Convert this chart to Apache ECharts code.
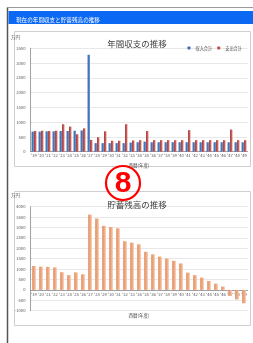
<!DOCTYPE html>
<html>
<head>
<meta charset="utf-8">
<script src="https://cdn.jsdelivr.net/npm/echarts@6/dist/echarts.min.js"></script>
<style>
html, body { margin: 0; padding: 0; background: #fff; }
#main { width: 253px; height: 343px; }
</style>
</head>
<body>
<div id="main"></div>
<script>
const years = ["'19", "'20", "'21", "'22", "'23", "'24", "'25", "'26", "'27", "'28", "'29", "'30", "'31", "'32", "'33", "'34",
	"'35", "'36", "'37", "'38", "'39", "'40", "'41", "'42", "'43", "'44", "'45", "'46", "'47", "'48", "'49"];
const income = [680, 680, 690, 690, 700, 700, 710, 720, 3280, 290, 290, 290, 290, 290, 310, 320,
	340, 320, 320, 320, 320, 320, 320, 320, 320, 320, 320, 320, 320, 320, 320];
const expense = [700, 710, 700, 710, 930, 850, 590, 790, 400, 490, 690, 370, 370, 930, 380, 390,
	700, 390, 390, 390, 390, 390, 730, 390, 390, 390, 390, 390, 750, 390, 390];
const savings = [1150, 1120, 1110, 1080, 850, 710, 840, 750, 3620, 3430, 3080, 3020, 2960, 2340, 2270, 2190,
	1830, 1710, 1600, 1510, 1400, 1270, 830, 710, 590, 430, 300, 160, -280, -460, -640];

const font = "'Noto Sans CJK JP', sans-serif";
const chart = echarts.init(document.getElementById("main"), null, { renderer: "canvas" });

const grad = (a, b) => new echarts.graphic.LinearGradient(0, 0, 1, 0, [
	{ offset: 0, color: a },
	{ offset: 1, color: b },
]);

const yAxisBase = {
	type      : "value",
	interval  : 500,
	axisLine  : { show: true, lineStyle: { color: "#8c8c8c", width: 0.8 } },
	axisTick  : { show: false },
	splitLine : { lineStyle: { color: "#d9d9d9", width: 0.6 } },
	axisLabel : { fontSize: 4.2, color: "#555", margin: 5, fontFamily: font, formatter: v => String(v) },
};

const xAxisBase = {
	type      : "category",
	data      : years,
	axisTick  : { show: false },
	axisLine  : { onZero: false, lineStyle: { color: "#8c8c8c", width: 0.8 } },
	axisLabel : { fontSize: 4.2, color: "#555", margin: 2, interval: 0, fontFamily: font },
	nameLocation  : "middle",
	nameTextStyle : { fontSize: 4.5, color: "#444", fontFamily: font },
	name          : "西暦(年度)",
};

chart.setOption({
	animation : false,
	textStyle : { fontFamily: font },
	title     : [
		{ text: "年間収支の推移", left: 132, top: 35, textAlign: "center",
			textStyle: { fontSize: 8.5, fontWeight: "normal", color: "#404040", fontFamily: font } },
		{ text: "貯蓄残高の推移", left: 132, top: 196, textAlign: "center",
			textStyle: { fontSize: 8.5, fontWeight: "normal", color: "#404040", fontFamily: font } },
	],
	legend: {
		right      : 6,
		top        : 41,
		itemWidth  : 3,
		itemHeight : 3,
		itemGap    : 5,
		textStyle  : { fontSize: 4.2, color: "#555", fontFamily: font },
		data       : [
			{ name: "収入合計", itemStyle: { color: "#3f6fb5" } },
			{ name: "支出合計", itemStyle: { color: "#c0504d" } },
		],
	},
	grid: [
		{ left: 30.5, top: 48.3, width: 217, height: 103.4 },
		{ left: 30.5, top: 206.7, width: 217, height: 104 },
		// upper part of the savings chart, down to the zero line, carries the year labels
		{ left: 30.5, top: 206.7, width: 217, height: 83.2 },
	],
	xAxis: [
		{ ...xAxisBase, gridIndex: 0, nameGap: 11 },
		{ ...xAxisBase, gridIndex: 1, show: false },
		{ ...xAxisBase, gridIndex: 2, nameGap: 23 },
	],
	yAxis: [
		{ ...yAxisBase, gridIndex: 0, min: 0, max: 3500 },
		{ ...yAxisBase, gridIndex: 1, min: -1000, max: 4000 },
		{ type: "value", gridIndex: 2, min: 0, max: 1, show: false },
	],
	series: [
		{
			name : "収入合計", type: "bar", xAxisIndex: 0, yAxisIndex: 0,
			data : income, barWidth: 2.4, barGap: "0%",
			itemStyle: { color: grad("#2f5f9f", "#6a9ad8") },
		},
		{
			name : "支出合計", type: "bar", xAxisIndex: 0, yAxisIndex: 0,
			data : expense, barWidth: 2.4,
			itemStyle: { color: grad("#a83c39", "#d8706c") },
		},
		{
			name : "貯蓄残高", type: "bar", xAxisIndex: 1, yAxisIndex: 1,
			data : savings, barWidth: 3.6, z: 3,
			itemStyle: { color: grad("#e08a5c", "#f8c4a2") },
		},
	],
	graphic: [
		// page border
		{ type: "line", z: -10, shape: { x1: 7.5, y1: 7.5, x2: 253, y2: 7.5 }, style: { stroke: "#9a9a9a", lineWidth: 1 } },
		{ type: "line", z: -10, shape: { x1: 7.5, y1: 7.5, x2: 7.5, y2: 343 }, style: { stroke: "#555", lineWidth: 1.5 } },
		// header bar
		{ type: "rect", z: -10, shape: { x: 8.5, y: 11, width: 245, height: 13 }, style: { fill: "#0a68f2" } },
		{ type: "text", z: -9, left: 16, top: 17, style: { text: "現在の年間収支と貯蓄残高の推移", fill: "#fff", fontSize: 5.6, fontFamily: font } },
		// chart frames
		{ type: "rect", z: -10, shape: { x: 14.5, y: 31.5, width: 236, height: 135 }, style: { fill: "#fff", stroke: "#cfcfcf", lineWidth: 1 } },
		{ type: "rect", z: -10, shape: { x: 14.5, y: 191.5, width: 236, height: 134 }, style: { fill: "#fff", stroke: "#cfcfcf", lineWidth: 1 } },
		// unit labels
		{ type: "text", z: -9, left: 11, top: 35, style: { text: "万円", fill: "#555", fontSize: 4.5, fontFamily: font } },
		{ type: "text", z: -9, left: 11, top: 193, style: { text: "万円", fill: "#555", fontSize: 4.5, fontFamily: font } },
		// circled number
		{ type: "circle", z: 100, shape: { cx: 123, cy: 183, r: 17 }, style: { fill: "rgba(255,255,255,0)", stroke: "#ff0000", lineWidth: 2.2 } },
		{ type: "text", z: 101, x: 123, y: 184, style: { text: "8", fill: "#ff0000", fontSize: 30, fontWeight: "bold", fontFamily: "'Liberation Sans', Arial, sans-serif", align: "center", verticalAlign: "middle" } },
	],
});
</script>
</body>
</html>
